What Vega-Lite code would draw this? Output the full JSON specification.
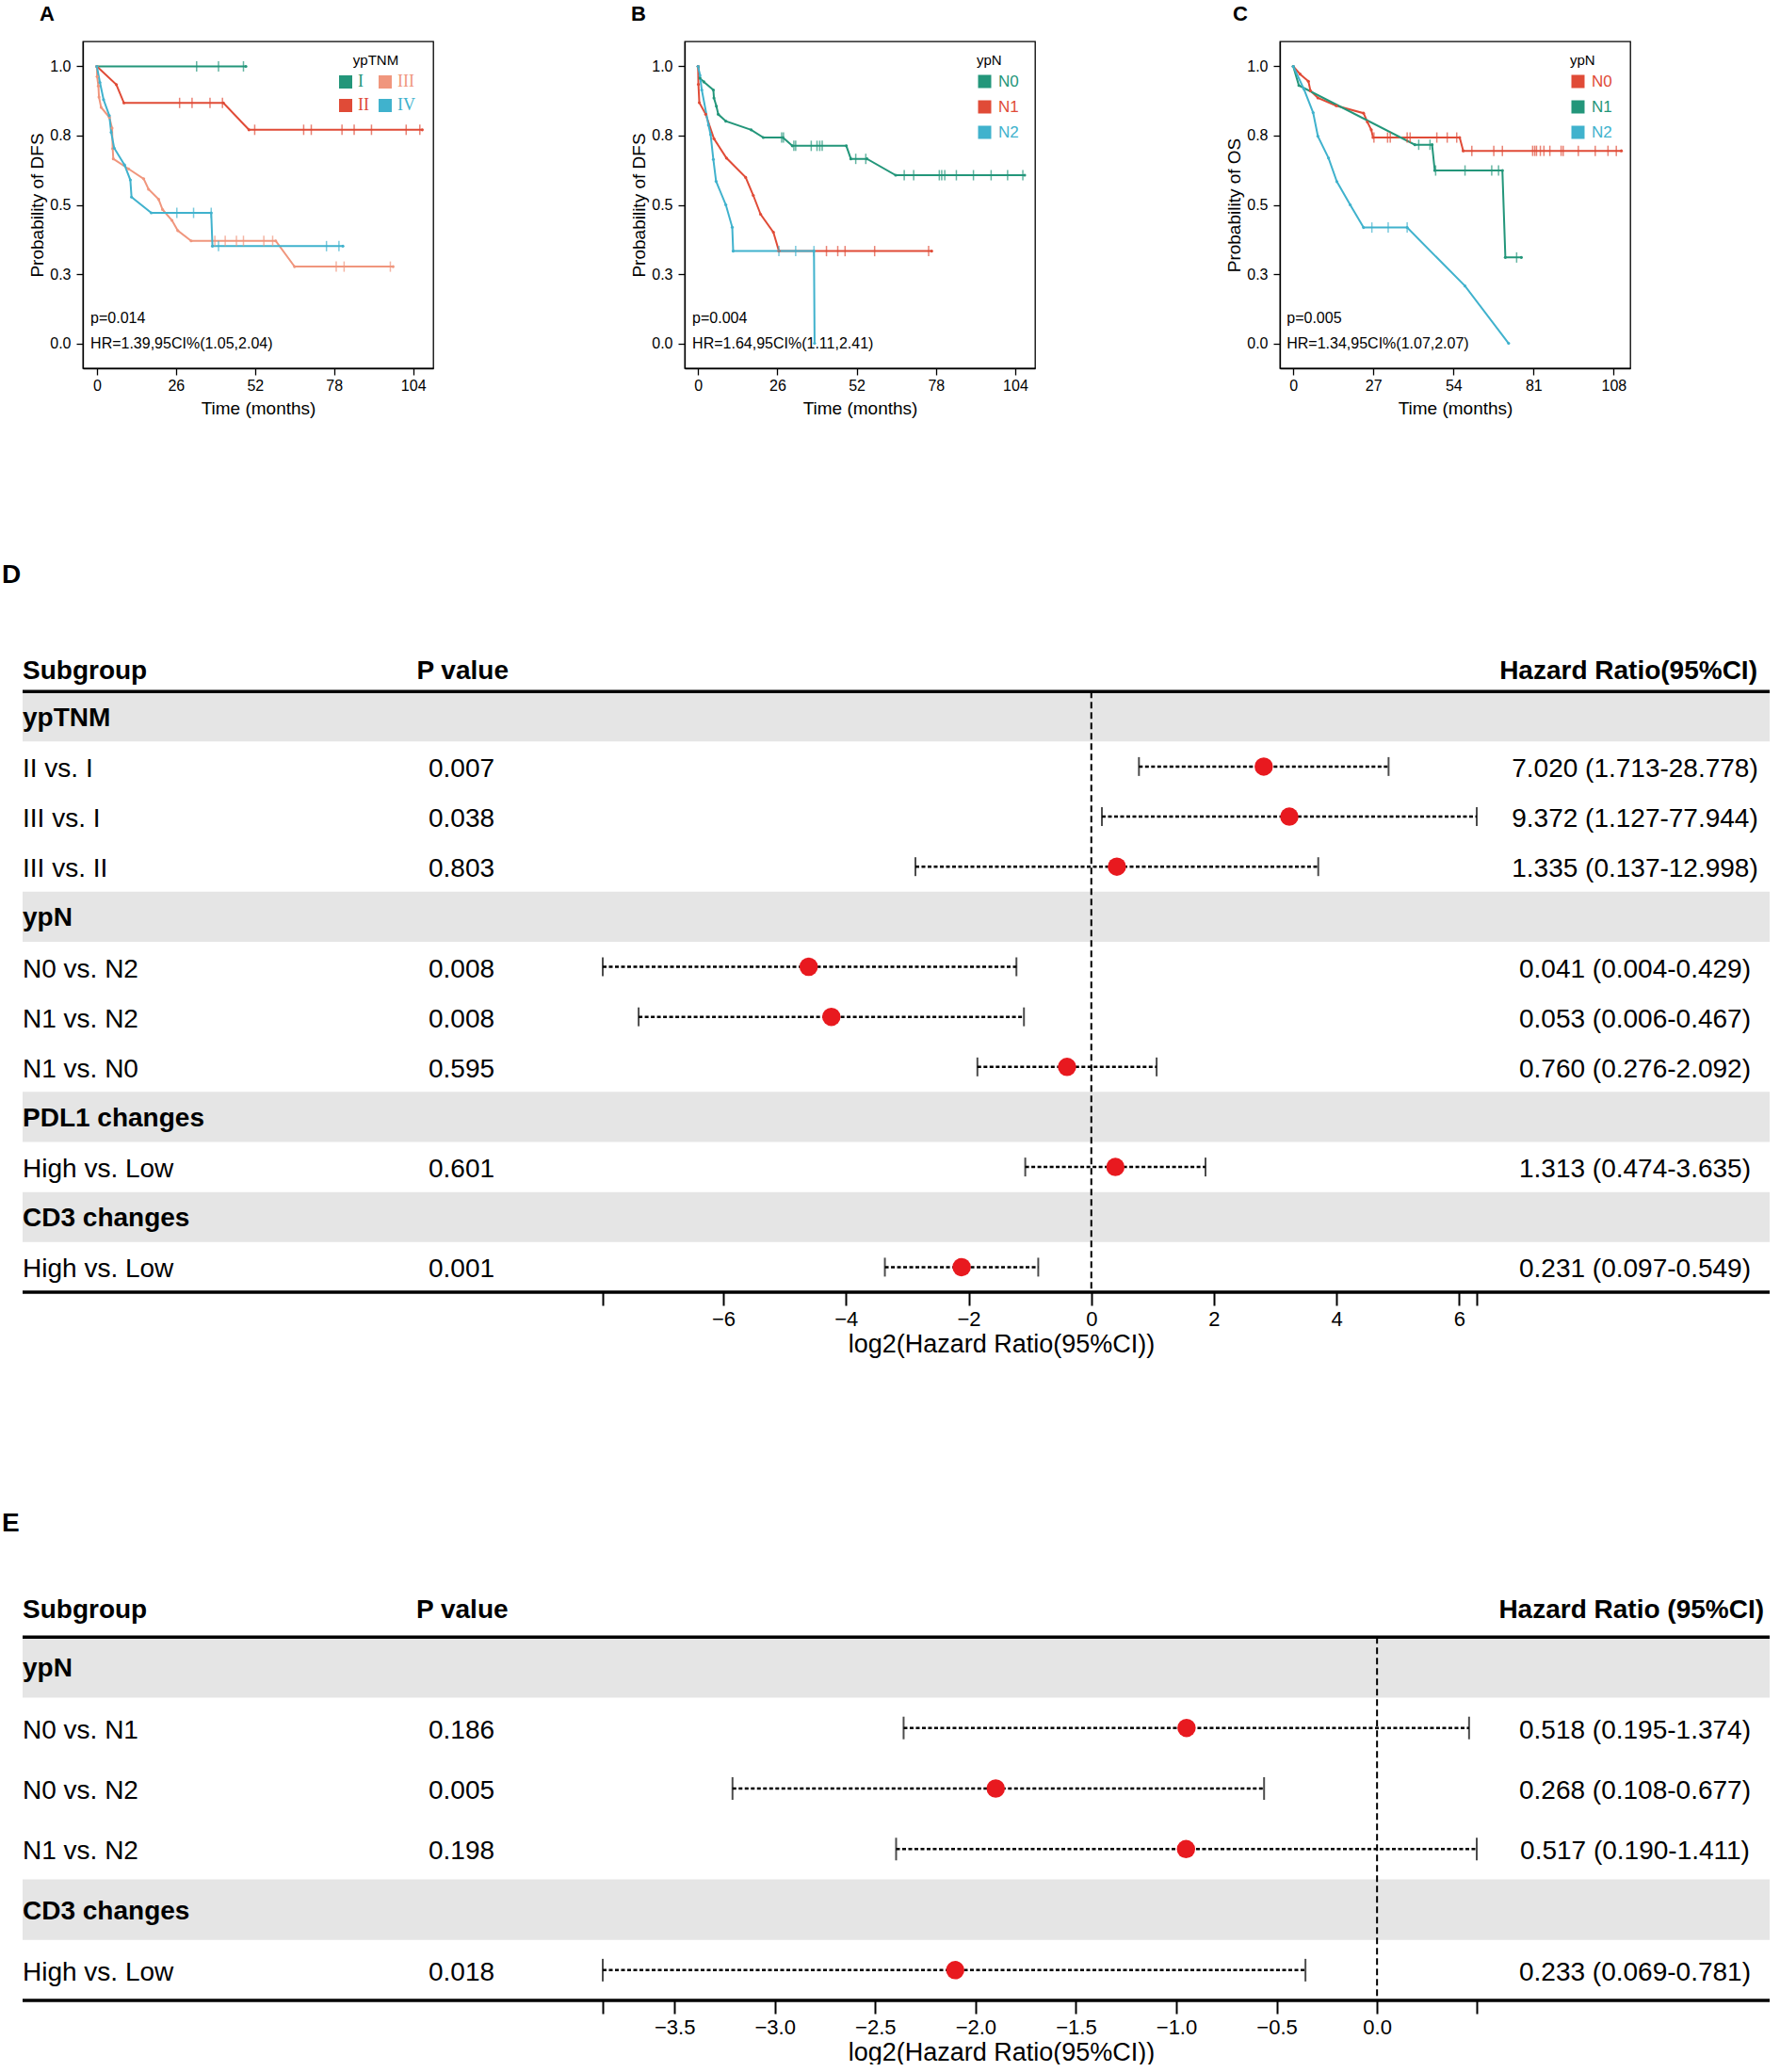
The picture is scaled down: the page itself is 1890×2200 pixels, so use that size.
{
  "$schema": "https://vega.github.io/schema/vega-lite/v6.json",
  "background": "white",
  "padding": {"left": 2, "top": 3, "right": 0, "bottom": 0},
  "config": {
    "font": "Liberation Sans",
    "view": {"stroke": "black", "strokeWidth": 1.3},
    "axis": {"grid": false, "labelColor": "black", "titleColor": "black", "tickColor": "black", "domainColor": "black", "titleFontWeight": "normal", "labelFont": "Liberation Sans", "titleFont": "Liberation Sans"},
    "title": {"color": "black", "font": "Liberation Sans"},
    "legend": {"titleFontWeight": "normal", "titleColor": "black"}
  },
  "datasets": {
    "a_lines": [
      {"g":"I","t":0,"s":1},{"g":"I","t":49,"s":1},
      {"g":"II","t":0,"s":1},{"g":"II","t":6.4,"s":0.934},{"g":"II","t":8.9,"s":0.868},{"g":"II","t":41.6,"s":0.868},{"g":"II","t":50,"s":0.771},{"g":"II","t":107,"s":0.771},
      {"g":"III","t":0,"s":1},{"g":"III","t":0.1,"s":0.963},{"g":"III","t":0.5,"s":0.929},{"g":"III","t":0.7,"s":0.889},{"g":"III","t":1.4,"s":0.852},{"g":"III","t":4.1,"s":0.816},{"g":"III","t":5,"s":0.777},{"g":"III","t":5.2,"s":0.703},{"g":"III","t":5.4,"s":0.666},{"g":"III","t":10.4,"s":0.63},{"g":"III","t":15.4,"s":0.594},{"g":"III","t":17,"s":0.556},{"g":"III","t":20.3,"s":0.52},{"g":"III","t":21.6,"s":0.483},{"g":"III","t":24.7,"s":0.444},{"g":"III","t":26.6,"s":0.407},{"g":"III","t":31,"s":0.37},{"g":"III","t":58.8,"s":0.37},{"g":"III","t":65,"s":0.277},{"g":"III","t":97.4,"s":0.277},
      {"g":"IV","t":0,"s":1},{"g":"IV","t":1,"s":0.942},{"g":"IV","t":2.2,"s":0.88},{"g":"IV","t":4.1,"s":0.822},{"g":"IV","t":4.7,"s":0.762},{"g":"IV","t":5.7,"s":0.705},{"g":"IV","t":9.1,"s":0.644},{"g":"IV","t":11,"s":0.59},{"g":"IV","t":11.4,"s":0.528},{"g":"IV","t":17.9,"s":0.471},{"g":"IV","t":37.6,"s":0.471},{"g":"IV","t":38,"s":0.351},{"g":"IV","t":80.9,"s":0.351}
    ],
    "a_cens": [
      {"g":"I","t":32.8,"s":1},{"g":"I","t":40,"s":1},{"g":"I","t":48.2,"s":1},
      {"g":"II","t":27.2,"s":0.868},{"g":"II","t":31.3,"s":0.868},{"g":"II","t":37.2,"s":0.868},{"g":"II","t":41.3,"s":0.868},
      {"g":"II","t":51.9,"s":0.771},{"g":"II","t":68,"s":0.771},{"g":"II","t":70.5,"s":0.771},{"g":"II","t":80.6,"s":0.771},{"g":"II","t":84.6,"s":0.771},{"g":"II","t":90.3,"s":0.771},{"g":"II","t":101.7,"s":0.771},{"g":"II","t":106.2,"s":0.771},
      {"g":"III","t":38.8,"s":0.37},{"g":"III","t":42.2,"s":0.37},{"g":"III","t":45.9,"s":0.37},{"g":"III","t":48.2,"s":0.37},{"g":"III","t":54.9,"s":0.37},{"g":"III","t":57.8,"s":0.37},
      {"g":"III","t":78.7,"s":0.277},{"g":"III","t":81.3,"s":0.277},{"g":"III","t":96.5,"s":0.277},
      {"g":"IV","t":26.3,"s":0.471},{"g":"IV","t":31.8,"s":0.471},{"g":"IV","t":37.6,"s":0.471},
      {"g":"IV","t":40,"s":0.351},{"g":"IV","t":75.5,"s":0.351},{"g":"IV","t":79.6,"s":0.351}
    ],
    "b_lines": [
      {"g":"N0","t":0,"s":1},{"g":"N0","t":0.6,"s":0.957},{"g":"N0","t":1.9,"s":0.944},{"g":"N0","t":5,"s":0.915},{"g":"N0","t":5.2,"s":0.886},{"g":"N0","t":6,"s":0.856},{"g":"N0","t":6.6,"s":0.827},{"g":"N0","t":9.1,"s":0.802},{"g":"N0","t":17.4,"s":0.771},{"g":"N0","t":21.4,"s":0.743},{"g":"N0","t":27.8,"s":0.743},{"g":"N0","t":30.9,"s":0.713},{"g":"N0","t":48.6,"s":0.713},{"g":"N0","t":50.1,"s":0.666},{"g":"N0","t":55.4,"s":0.666},{"g":"N0","t":64.8,"s":0.607},{"g":"N0","t":107.1,"s":0.607},
      {"g":"N1","t":0,"s":1},{"g":"N1","t":0.1,"s":0.935},{"g":"N1","t":0.4,"s":0.869},{"g":"N1","t":2.5,"s":0.827},{"g":"N1","t":5.2,"s":0.739},{"g":"N1","t":9.3,"s":0.669},{"g":"N1","t":15.6,"s":0.599},{"g":"N1","t":18.1,"s":0.534},{"g":"N1","t":20.5,"s":0.466},{"g":"N1","t":24.7,"s":0.401},{"g":"N1","t":26.5,"s":0.333},{"g":"N1","t":76.6,"s":0.333},
      {"g":"N2","t":0,"s":1},{"g":"N2","t":0.6,"s":0.968},{"g":"N2","t":1.2,"s":0.915},{"g":"N2","t":3.4,"s":0.788},{"g":"N2","t":4.1,"s":0.754},{"g":"N2","t":5,"s":0.664},{"g":"N2","t":5.9,"s":0.585},{"g":"N2","t":9.1,"s":0.5},{"g":"N2","t":11.2,"s":0.419},{"g":"N2","t":11.5,"s":0.333},{"g":"N2","t":38,"s":0.333},{"g":"N2","t":38.2,"s":0}
    ],
    "b_cens": [
      {"g":"N0","t":27.4,"s":0.743},{"g":"N0","t":28,"s":0.743},
      {"g":"N0","t":31.4,"s":0.713},{"g":"N0","t":32,"s":0.713},{"g":"N0","t":37.1,"s":0.713},{"g":"N0","t":39,"s":0.713},{"g":"N0","t":39.9,"s":0.713},{"g":"N0","t":40.7,"s":0.713},
      {"g":"N0","t":51.7,"s":0.666},{"g":"N0","t":55,"s":0.666},
      {"g":"N0","t":67.6,"s":0.607},{"g":"N0","t":70.7,"s":0.607},{"g":"N0","t":79.1,"s":0.607},{"g":"N0","t":79.9,"s":0.607},{"g":"N0","t":80.9,"s":0.607},{"g":"N0","t":84.7,"s":0.607},{"g":"N0","t":90.3,"s":0.607},{"g":"N0","t":96.1,"s":0.607},{"g":"N0","t":101.5,"s":0.607},{"g":"N0","t":106.5,"s":0.607},
      {"g":"N1","t":42.1,"s":0.333},{"g":"N1","t":45.8,"s":0.333},{"g":"N1","t":48.2,"s":0.333},{"g":"N1","t":57.9,"s":0.333},{"g":"N1","t":75.6,"s":0.333},
      {"g":"N2","t":26.5,"s":0.333},{"g":"N2","t":32,"s":0.333},{"g":"N2","t":38,"s":0.333}
    ],
    "c_lines": [
      {"g":"N0","t":0,"s":1},{"g":"N0","t":2.3,"s":0.972},{"g":"N0","t":5.1,"s":0.946},{"g":"N0","t":5.8,"s":0.912},{"g":"N0","t":8.3,"s":0.886},{"g":"N0","t":14.5,"s":0.858},{"g":"N0","t":23.7,"s":0.831},{"g":"N0","t":25,"s":0.799},{"g":"N0","t":26.3,"s":0.771},{"g":"N0","t":26.9,"s":0.743},{"g":"N0","t":56.1,"s":0.743},{"g":"N0","t":57.3,"s":0.695},{"g":"N0","t":110.6,"s":0.695},
      {"g":"N1","t":0,"s":1},{"g":"N1","t":1.9,"s":0.931},{"g":"N1","t":41,"s":0.717},{"g":"N1","t":46.8,"s":0.717},{"g":"N1","t":47.7,"s":0.624},{"g":"N1","t":70.5,"s":0.624},{"g":"N1","t":71.5,"s":0.31},{"g":"N1","t":76.9,"s":0.31},
      {"g":"N2","t":0,"s":1},{"g":"N2","t":3.6,"s":0.918},{"g":"N2","t":6.7,"s":0.833},{"g":"N2","t":8.3,"s":0.748},{"g":"N2","t":11.9,"s":0.669},{"g":"N2","t":14.7,"s":0.584},{"g":"N2","t":19.2,"s":0.5},{"g":"N2","t":23.7,"s":0.418},{"g":"N2","t":38.4,"s":0.418},{"g":"N2","t":57.9,"s":0.207},{"g":"N2","t":72.6,"s":0}
    ],
    "c_cens": [
      {"g":"N0","t":27.2,"s":0.743},{"g":"N0","t":31.8,"s":0.743},{"g":"N0","t":32.7,"s":0.743},{"g":"N0","t":38.4,"s":0.743},{"g":"N0","t":39.4,"s":0.743},{"g":"N0","t":48.4,"s":0.743},{"g":"N0","t":51.9,"s":0.743},{"g":"N0","t":55.1,"s":0.743},
      {"g":"N0","t":60.2,"s":0.695},{"g":"N0","t":67.6,"s":0.695},{"g":"N0","t":70.5,"s":0.695},{"g":"N0","t":80.7,"s":0.695},{"g":"N0","t":81.4,"s":0.695},{"g":"N0","t":82,"s":0.695},{"g":"N0","t":83.3,"s":0.695},{"g":"N0","t":84.5,"s":0.695},{"g":"N0","t":86.5,"s":0.695},{"g":"N0","t":90.3,"s":0.695},{"g":"N0","t":91,"s":0.695},{"g":"N0","t":96.1,"s":0.695},{"g":"N0","t":101.8,"s":0.695},{"g":"N0","t":106.1,"s":0.695},{"g":"N0","t":108.9,"s":0.695},
      {"g":"N1","t":42.3,"s":0.717},{"g":"N1","t":46.1,"s":0.717},{"g":"N1","t":48,"s":0.624},{"g":"N1","t":57.9,"s":0.624},{"g":"N1","t":66.9,"s":0.624},{"g":"N1","t":69.2,"s":0.624},{"g":"N1","t":75.3,"s":0.31},
      {"g":"N2","t":26.5,"s":0.418},{"g":"N2","t":32,"s":0.418},{"g":"N2","t":38.4,"s":0.418}
    ],
    "d_rows": [
      {"row":0,"kind":"group","label":"ypTNM"},
      {"row":1,"kind":"item","label":"II vs. I","p":"0.007","hr":"7.020 (1.713-28.778)","est":2.8115,"lo":0.7765,"hi":4.8468},
      {"row":2,"kind":"item","label":"III vs. I","p":"0.038","hr":"9.372 (1.127-77.944)","est":3.2284,"lo":0.1725,"hi":6.2844},
      {"row":3,"kind":"item","label":"III vs. II","p":"0.803","hr":"1.335 (0.137-12.998)","est":0.4168,"lo":-2.8678,"hi":3.7002},
      {"row":4,"kind":"group","label":"ypN"},
      {"row":5,"kind":"item","label":"N0 vs. N2","p":"0.008","hr":"0.041 (0.004-0.429)","est":-4.6082,"lo":-7.9658,"hi":-1.2209},
      {"row":6,"kind":"item","label":"N1 vs. N2","p":"0.008","hr":"0.053 (0.006-0.467)","est":-4.2379,"lo":-7.3808,"hi":-1.0985},
      {"row":7,"kind":"item","label":"N1 vs. N0","p":"0.595","hr":"0.760 (0.276-2.092)","est":-0.3959,"lo":-1.8573,"hi":1.0649},
      {"row":8,"kind":"group","label":"PDL1 changes"},
      {"row":9,"kind":"item","label":"High vs. Low","p":"0.601","hr":"1.313 (0.474-3.635)","est":0.3929,"lo":-1.0771,"hi":1.862},
      {"row":10,"kind":"group","label":"CD3 changes"},
      {"row":11,"kind":"item","label":"High vs. Low","p":"0.001","hr":"0.231 (0.097-0.549)","est":-2.114,"lo":-3.3659,"hi":-0.8651}
    ],
    "e_rows": [
      {"row":0,"kind":"group","label":"ypN"},
      {"row":1,"kind":"item","label":"N0 vs. N1","p":"0.186","hr":"0.518 (0.195-1.374)","est":-0.949,"lo":-2.3585,"hi":0.4584},
      {"row":2,"kind":"item","label":"N0 vs. N2","p":"0.005","hr":"0.268 (0.108-0.677)","est":-1.8997,"lo":-3.2109,"hi":-0.5628},
      {"row":3,"kind":"item","label":"N1 vs. N2","p":"0.198","hr":"0.517 (0.190-1.411)","est":-0.9517,"lo":-2.3959,"hi":0.4967},
      {"row":4,"kind":"group","label":"CD3 changes"},
      {"row":5,"kind":"item","label":"High vs. Low","p":"0.018","hr":"0.233 (0.069-0.781)","est":-2.1015,"lo":-3.8573,"hi":-0.3566}
    ]
  },
  "spacing": 153,
  "resolve": {"scale": {"color": "independent"}, "legend": {"color": "independent"}},
  "vconcat": [
    {
      "spacing": 0,
      "resolve": {"scale": {"color": "independent"}, "legend": {"color": "independent"}},
      "hconcat": [
        {"width": 28, "height": 10, "view": {"stroke": null}, "data": {"values": [{}]}, "mark": {"type": "text"}, "encoding": {"text": {"value": ""}}},
        {
          "spacing": 208,
          "resolve": {"scale": {"color": "independent", "x": "independent", "y": "independent"}, "legend": {"color": "independent"}},
          "hconcat": [
            {
              "width": 372, "height": 347,
              "title": {"text": "A", "anchor": "start", "frame": "group", "dx": -46, "fontSize": 22, "fontWeight": "bold", "offset": 17},
              "layer": [
                {
                  "data": {"name": "a_lines"},
                  "mark": {"type": "line", "strokeWidth": 2, "point": {"filled": true, "size": 10}},
                  "encoding": {
                    "x": {"field": "t", "type": "quantitative", "title": "Time (months)", "scale": {"domain": [-4.6, 110.6], "nice": false, "zero": false, "padding": 0}, "axis": {"values": [0, 26, 52, 78, 104], "title": "Time (months)", "tickSize": 7, "tickWidth": 1.3, "domainWidth": 1.3, "labelFontSize": 16, "titleFontSize": 19, "labelPadding": 3, "titlePadding": 7, "labelFlush": false}},
                    "y": {"field": "s", "type": "quantitative", "title": "Probability of DFS", "scale": {"domain": [-0.09, 1.09], "nice": false, "zero": false, "padding": 0}, "axis": {"values": [0, 0.25, 0.5, 0.75, 1], "format": ".1f", "title": "Probability of DFS", "tickSize": 7, "tickWidth": 1.3, "domainWidth": 1.3, "labelFontSize": 16, "titleFontSize": 19, "labelPadding": 6, "titlePadding": 3}},
                    "color": {"field": "g", "type": "nominal", "scale": {"domain": ["I", "II", "III", "IV"], "range": ["#23967A", "#E04B37", "#F0967D", "#40B2CD"]},
                      "legend": {"title": "ypTNM", "orient": "none", "legendX": 270, "legendY": 13, "columns": 2, "titleFontSize": 15, "titleAnchor": "middle", "titlePadding": 6, "labelFont": "Liberation Serif", "labelFontSize": 18, "symbolType": "square", "symbolSize": 196, "rowPadding": 7, "columnPadding": 8, "labelOffset": 4, "padding": 0,
                        "encode": {"labels": {"update": {"fill": {"signal": "datum.value === 'I' ? '#23967A' : datum.value === 'II' ? '#E04B37' : datum.value === 'III' ? '#F0967D' : '#40B2CD'"}}},
                                   "symbols": {"update": {"fill": {"signal": "datum.value === 'I' ? '#23967A' : datum.value === 'II' ? '#E04B37' : datum.value === 'III' ? '#F0967D' : '#40B2CD'"}, "stroke": {"value": "transparent"}, "strokeWidth": {"value": 0}}}}}}
                  }
                },
                {
                  "data": {"name": "a_cens"},
                  "mark": {"type": "tick", "orient": "vertical", "size": 11, "thickness": 1.5},
                  "encoding": {
                    "x": {"field": "t", "type": "quantitative", "title": "Time (months)"},
                    "y": {"field": "s", "type": "quantitative", "title": "Probability of DFS"},
                    "color": {"field": "g", "type": "nominal", "legend": null}
                  }
                },
                {
                  "data": {"values": [{"txt": "p=0.014"}]},
                  "mark": {"type": "text", "align": "left", "baseline": "middle", "fontSize": 16, "color": "black"},
                  "encoding": {"x": {"datum": -2.1}, "y": {"datum": 0.09}, "text": {"field": "txt"}}
                },
                {
                  "data": {"values": [{"txt": "HR=1.39,95CI%(1.05,2.04)"}]},
                  "mark": {"type": "text", "align": "left", "baseline": "middle", "fontSize": 16, "color": "black"},
                  "encoding": {"x": {"datum": -2.1}, "y": {"datum": 0.0}, "text": {"field": "txt"}}
                }
              ]
            },
            {
              "spacing": 201,
              "resolve": {"scale": {"color": "independent", "x": "independent", "y": "independent"}, "legend": {"color": "independent"}},
              "hconcat": [
                {
                  "width": 372, "height": 347,
                  "title": {"text": "B", "anchor": "start", "frame": "group", "dx": -57, "fontSize": 22, "fontWeight": "bold", "offset": 17},
                  "layer": [
                    {
                      "data": {"name": "b_lines"},
                      "mark": {"type": "line", "strokeWidth": 2, "point": {"filled": true, "size": 10}},
                      "encoding": {
                        "x": {"field": "t", "type": "quantitative", "title": "Time (months)", "scale": {"domain": [-4.4, 110.5], "nice": false, "zero": false, "padding": 0}, "axis": {"values": [0, 26, 52, 78, 104], "title": "Time (months)", "tickSize": 7, "tickWidth": 1.3, "domainWidth": 1.3, "labelFontSize": 16, "titleFontSize": 19, "labelPadding": 3, "titlePadding": 7, "labelFlush": false}},
                        "y": {"field": "s", "type": "quantitative", "title": "Probability of DFS", "scale": {"domain": [-0.09, 1.09], "nice": false, "zero": false, "padding": 0}, "axis": {"values": [0, 0.25, 0.5, 0.75, 1], "format": ".1f", "title": "Probability of DFS", "tickSize": 7, "tickWidth": 1.3, "domainWidth": 1.3, "labelFontSize": 16, "titleFontSize": 19, "labelPadding": 6, "titlePadding": 3}},
                        "color": {"field": "g", "type": "nominal", "scale": {"domain": ["N0", "N1", "N2"], "range": ["#23967A", "#E04B37", "#40B2CD"]},
                          "legend": {"title": "ypN", "orient": "none", "legendX": 310, "legendY": 13, "titleFontSize": 15, "titleAnchor": "start", "titlePadding": 6, "labelFontSize": 17, "symbolType": "square", "symbolSize": 196, "rowPadding": 9, "labelOffset": 6, "padding": 0,
                            "encode": {"labels": {"update": {"fill": {"signal": "datum.value === 'N0' ? '#23967A' : datum.value === 'N1' ? '#E04B37' : '#40B2CD'"}}},
                                       "symbols": {"update": {"fill": {"signal": "datum.value === 'N0' ? '#23967A' : datum.value === 'N1' ? '#E04B37' : '#40B2CD'"}, "stroke": {"value": "transparent"}, "strokeWidth": {"value": 0}}}}}}
                      }
                    },
                    {
                      "data": {"name": "b_cens"},
                      "mark": {"type": "tick", "orient": "vertical", "size": 11, "thickness": 1.5},
                      "encoding": {
                        "x": {"field": "t", "type": "quantitative", "title": "Time (months)"},
                        "y": {"field": "s", "type": "quantitative", "title": "Probability of DFS"},
                        "color": {"field": "g", "type": "nominal", "legend": null}
                      }
                    },
                    {
                      "data": {"values": [{"txt": "p=0.004"}]},
                      "mark": {"type": "text", "align": "left", "baseline": "middle", "fontSize": 16, "color": "black"},
                      "encoding": {"x": {"datum": -1.9}, "y": {"datum": 0.09}, "text": {"field": "txt"}}
                    },
                    {
                      "data": {"values": [{"txt": "HR=1.64,95CI%(1.11,2.41)"}]},
                      "mark": {"type": "text", "align": "left", "baseline": "middle", "fontSize": 16, "color": "black"},
                      "encoding": {"x": {"datum": -1.9}, "y": {"datum": 0.0}, "text": {"field": "txt"}}
                    }
                  ]
                },
                {
                  "width": 372, "height": 347,
                  "title": {"text": "C", "anchor": "start", "frame": "group", "dx": -50, "fontSize": 22, "fontWeight": "bold", "offset": 17},
                  "layer": [
                    {
                      "data": {"name": "c_lines"},
                      "mark": {"type": "line", "strokeWidth": 2, "point": {"filled": true, "size": 10}},
                      "encoding": {
                        "x": {"field": "t", "type": "quantitative", "title": "Time (months)", "scale": {"domain": [-4.5, 113.6], "nice": false, "zero": false, "padding": 0}, "axis": {"values": [0, 27, 54, 81, 108], "title": "Time (months)", "tickSize": 7, "tickWidth": 1.3, "domainWidth": 1.3, "labelFontSize": 16, "titleFontSize": 19, "labelPadding": 3, "titlePadding": 7, "labelFlush": false}},
                        "y": {"field": "s", "type": "quantitative", "title": "Probability of OS", "scale": {"domain": [-0.09, 1.09], "nice": false, "zero": false, "padding": 0}, "axis": {"values": [0, 0.25, 0.5, 0.75, 1], "format": ".1f", "title": "Probability of OS", "tickSize": 7, "tickWidth": 1.3, "domainWidth": 1.3, "labelFontSize": 16, "titleFontSize": 19, "labelPadding": 6, "titlePadding": 3}},
                        "color": {"field": "g", "type": "nominal", "scale": {"domain": ["N0", "N1", "N2"], "range": ["#E04B37", "#23967A", "#40B2CD"]},
                          "legend": {"title": "ypN", "orient": "none", "legendX": 308, "legendY": 13, "titleFontSize": 15, "titleAnchor": "start", "titlePadding": 6, "labelFontSize": 17, "symbolType": "square", "symbolSize": 196, "rowPadding": 9, "labelOffset": 6, "padding": 0,
                            "encode": {"labels": {"update": {"fill": {"signal": "datum.value === 'N0' ? '#E04B37' : datum.value === 'N1' ? '#23967A' : '#40B2CD'"}}},
                                       "symbols": {"update": {"fill": {"signal": "datum.value === 'N0' ? '#E04B37' : datum.value === 'N1' ? '#23967A' : '#40B2CD'"}, "stroke": {"value": "transparent"}, "strokeWidth": {"value": 0}}}}}}
                      }
                    },
                    {
                      "data": {"name": "c_cens"},
                      "mark": {"type": "tick", "orient": "vertical", "size": 11, "thickness": 1.5},
                      "encoding": {
                        "x": {"field": "t", "type": "quantitative", "title": "Time (months)"},
                        "y": {"field": "s", "type": "quantitative", "title": "Probability of OS"},
                        "color": {"field": "g", "type": "nominal", "legend": null}
                      }
                    },
                    {
                      "data": {"values": [{"txt": "p=0.005"}]},
                      "mark": {"type": "text", "align": "left", "baseline": "middle", "fontSize": 16, "color": "black"},
                      "encoding": {"x": {"datum": -2.2}, "y": {"datum": 0.09}, "text": {"field": "txt"}}
                    },
                    {
                      "data": {"values": [{"txt": "HR=1.34,95CI%(1.07,2.07)"}]},
                      "mark": {"type": "text", "align": "left", "baseline": "middle", "fontSize": 16, "color": "black"},
                      "encoding": {"x": {"datum": -2.2}, "y": {"datum": 0.0}, "text": {"field": "txt"}}
                    }
                  ]
                }
              ]
            }
          ]
        }
      ]
    },
    {
      "spacing": 164,
      "vconcat": [
        {
          "width": 1877, "height": 691,
          "view": {"stroke": null},
          "title": {"text": "D", "anchor": "start", "frame": "group", "dx": 0, "fontSize": 28, "fontWeight": "bold", "offset": 56},
          "data": {"name": "d_rows"},
          "layer": [
            {"transform": [{"filter": "datum.kind === 'group'"}], "mark": {"type": "bar", "color": "#e5e5e5", "orient": "horizontal"},
             "encoding": {"x": {"datum": -17.425, "type": "quantitative"}, "x2": {"datum": 11.06}, "y": {"field": "row", "type": "quantitative", "scale": {"domain": [11.5, -1.5], "nice": false, "zero": false, "padding": 0}, "axis": null}, "size": {"value": 53.2}}},
            {"data": {"values": [{}]}, "mark": {"type": "rule", "color": "black", "strokeWidth": 3.5}, "encoding": {"x": {"datum": -17.425, "type": "quantitative"}, "x2": {"datum": 11.06}, "y": {"datum": -0.5, "type": "quantitative", "axis": null}}},
            {"data": {"values": [{}]}, "mark": {"type": "rule", "color": "black", "strokeWidth": 3.5}, "encoding": {"x": {"datum": -17.425, "type": "quantitative"}, "x2": {"datum": 11.06}, "y": {"datum": 11.5, "type": "quantitative", "axis": null}}},
            {"data": {"values": [{}]}, "mark": {"type": "rule", "color": "black", "strokeWidth": 2, "strokeDash": [7, 4]},
             "encoding": {
               "x": {"datum": 0, "type": "quantitative", "scale": {"domain": [-17.763, 11.06], "nice": false, "zero": false, "padding": 0},
                     "axis": {"values": [-7.9658, -6, -4, -2, 0, 2, 4, 6, 6.2844], "format": "d", "labelExpr": "datum.value < -7 || datum.value > 6.1 ? '' : datum.label", "domain": false, "tickSize": 14, "tickWidth": 2, "labelFontSize": 22, "labelPadding": 4, "labelFlush": false, "title": "log2(Hazard Ratio(95%CI))", "titleFontSize": 27, "titlePadding": 3, "titleX": 1061, "titleAlign": "center"}},
               "y": {"datum": -0.5, "type": "quantitative", "axis": null}, "y2": {"datum": 11.5}}},
            {"transform": [{"filter": "datum.kind === 'item'"}], "mark": {"type": "rule", "color": "black", "strokeWidth": 2.5, "strokeDash": [4, 2.5]},
             "encoding": {"x": {"field": "lo", "type": "quantitative", "title": "log2(Hazard Ratio(95%CI))"}, "x2": {"field": "hi"}, "y": {"field": "row", "type": "quantitative", "axis": null}}},
            {"transform": [{"filter": "datum.kind === 'item'"}], "mark": {"type": "tick", "orient": "vertical", "color": "black", "size": 20, "thickness": 2},
             "encoding": {"x": {"field": "lo", "type": "quantitative", "title": "log2(Hazard Ratio(95%CI))"}, "y": {"field": "row", "type": "quantitative", "axis": null}}},
            {"transform": [{"filter": "datum.kind === 'item'"}], "mark": {"type": "tick", "orient": "vertical", "color": "black", "size": 20, "thickness": 2},
             "encoding": {"x": {"field": "hi", "type": "quantitative", "title": "log2(Hazard Ratio(95%CI))"}, "y": {"field": "row", "type": "quantitative", "axis": null}}},
            {"transform": [{"filter": "datum.kind === 'item'"}], "mark": {"type": "circle", "color": "#E8191F", "size": 380, "opacity": 1},
             "encoding": {"x": {"field": "est", "type": "quantitative", "title": "log2(Hazard Ratio(95%CI))"}, "y": {"field": "row", "type": "quantitative", "axis": null}}},
            {"transform": [{"filter": "datum.kind === 'group'"}], "mark": {"type": "text", "align": "left", "baseline": "middle", "fontSize": 28, "fontWeight": "bold", "color": "black", "dy": 2},
             "encoding": {"x": {"datum": -17.425}, "y": {"field": "row", "type": "quantitative", "axis": null}, "text": {"field": "label"}}},
            {"transform": [{"filter": "datum.kind === 'item'"}], "mark": {"type": "text", "align": "left", "baseline": "middle", "fontSize": 28, "color": "black", "dy": 3},
             "encoding": {"x": {"datum": -17.425}, "y": {"field": "row", "type": "quantitative", "axis": null}, "text": {"field": "label"}}},
            {"transform": [{"filter": "datum.kind === 'item'"}], "mark": {"type": "text", "align": "left", "baseline": "middle", "fontSize": 28, "color": "black", "dy": 3},
             "encoding": {"x": {"datum": -10.807}, "y": {"field": "row", "type": "quantitative", "axis": null}, "text": {"field": "p"}}},
            {"transform": [{"filter": "datum.kind === 'item'"}], "mark": {"type": "text", "align": "center", "baseline": "middle", "fontSize": 28, "color": "black", "dy": 3},
             "encoding": {"x": {"datum": 8.864}, "y": {"field": "row", "type": "quantitative", "axis": null}, "text": {"field": "hr"}}},
            {"data": {"values": [{"h": "Subgroup"}]}, "mark": {"type": "text", "align": "left", "baseline": "middle", "fontSize": 28, "fontWeight": "bold", "color": "black"},
             "encoding": {"x": {"datum": -17.425}, "y": {"datum": -0.895}, "text": {"field": "h"}}},
            {"data": {"values": [{"h": "P value"}]}, "mark": {"type": "text", "align": "left", "baseline": "middle", "fontSize": 28, "fontWeight": "bold", "color": "black"},
             "encoding": {"x": {"datum": -11.0}, "y": {"datum": -0.895}, "text": {"field": "h"}}},
            {"data": {"values": [{"h": "Hazard Ratio(95%CI)"}]}, "mark": {"type": "text", "align": "right", "baseline": "middle", "fontSize": 28, "fontWeight": "bold", "color": "black"},
             "encoding": {"x": {"datum": 10.86}, "y": {"datum": -0.895}, "text": {"field": "h"}}}
          ]
        },
        {
          "width": 1877, "height": 450,
          "view": {"stroke": null},
          "title": {"text": "E", "anchor": "start", "frame": "group", "dx": 0, "fontSize": 28, "fontWeight": "bold", "offset": 42},
          "data": {"name": "e_rows"},
          "layer": [
            {"transform": [{"filter": "datum.kind === 'group'"}], "mark": {"type": "bar", "color": "#e5e5e5", "orient": "horizontal"},
             "encoding": {"x": {"datum": -6.7475, "type": "quantitative"}, "x2": {"datum": 1.9558}, "y": {"field": "row", "type": "quantitative", "scale": {"domain": [5.5, -1.5], "nice": false, "zero": false, "padding": 0}, "axis": null}, "size": {"value": 64.3}}},
            {"data": {"values": [{}]}, "mark": {"type": "rule", "color": "black", "strokeWidth": 3.5}, "encoding": {"x": {"datum": -6.7475, "type": "quantitative"}, "x2": {"datum": 1.9558}, "y": {"datum": -0.5, "type": "quantitative", "axis": null}}},
            {"data": {"values": [{}]}, "mark": {"type": "rule", "color": "black", "strokeWidth": 3.5}, "encoding": {"x": {"datum": -6.7475, "type": "quantitative"}, "x2": {"datum": 1.9558}, "y": {"datum": 5.5, "type": "quantitative", "axis": null}}},
            {"data": {"values": [{}]}, "mark": {"type": "rule", "color": "black", "strokeWidth": 2, "strokeDash": [7, 4]},
             "encoding": {
               "x": {"datum": 0, "type": "quantitative", "scale": {"domain": [-6.8507, 1.9558], "nice": false, "zero": false, "padding": 0},
                     "axis": {"values": [-3.8573, -3.5, -3, -2.5, -2, -1.5, -1, -0.5, 0, 0.4967], "format": ".1f", "labelExpr": "datum.value < -3.6 || datum.value > 0.1 ? '' : datum.label", "domain": false, "tickSize": 14, "tickWidth": 2, "labelFontSize": 22, "labelPadding": 4, "labelFlush": false, "title": "log2(Hazard Ratio(95%CI))", "titleFontSize": 27, "titlePadding": 3, "titleX": 1061, "titleAlign": "center"}},
               "y": {"datum": -0.5, "type": "quantitative", "axis": null}, "y2": {"datum": 5.5}}},
            {"transform": [{"filter": "datum.kind === 'item'"}], "mark": {"type": "rule", "color": "black", "strokeWidth": 2.5, "strokeDash": [4, 2.5]},
             "encoding": {"x": {"field": "lo", "type": "quantitative", "title": "log2(Hazard Ratio(95%CI))"}, "x2": {"field": "hi"}, "y": {"field": "row", "type": "quantitative", "axis": null}}},
            {"transform": [{"filter": "datum.kind === 'item'"}], "mark": {"type": "tick", "orient": "vertical", "color": "black", "size": 24, "thickness": 2},
             "encoding": {"x": {"field": "lo", "type": "quantitative", "title": "log2(Hazard Ratio(95%CI))"}, "y": {"field": "row", "type": "quantitative", "axis": null}}},
            {"transform": [{"filter": "datum.kind === 'item'"}], "mark": {"type": "tick", "orient": "vertical", "color": "black", "size": 24, "thickness": 2},
             "encoding": {"x": {"field": "hi", "type": "quantitative", "title": "log2(Hazard Ratio(95%CI))"}, "y": {"field": "row", "type": "quantitative", "axis": null}}},
            {"transform": [{"filter": "datum.kind === 'item'"}], "mark": {"type": "circle", "color": "#E8191F", "size": 380, "opacity": 1},
             "encoding": {"x": {"field": "est", "type": "quantitative", "title": "log2(Hazard Ratio(95%CI))"}, "y": {"field": "row", "type": "quantitative", "axis": null}}},
            {"transform": [{"filter": "datum.kind === 'group'"}], "mark": {"type": "text", "align": "left", "baseline": "middle", "fontSize": 28, "fontWeight": "bold", "color": "black", "dy": 2},
             "encoding": {"x": {"datum": -6.7475}, "y": {"field": "row", "type": "quantitative", "axis": null}, "text": {"field": "label"}}},
            {"transform": [{"filter": "datum.kind === 'item'"}], "mark": {"type": "text", "align": "left", "baseline": "middle", "fontSize": 28, "color": "black", "dy": 3},
             "encoding": {"x": {"datum": -6.7475}, "y": {"field": "row", "type": "quantitative", "axis": null}, "text": {"field": "label"}}},
            {"transform": [{"filter": "datum.kind === 'item'"}], "mark": {"type": "text", "align": "left", "baseline": "middle", "fontSize": 28, "color": "black", "dy": 3},
             "encoding": {"x": {"datum": -4.7253}, "y": {"field": "row", "type": "quantitative", "axis": null}, "text": {"field": "p"}}},
            {"transform": [{"filter": "datum.kind === 'item'"}], "mark": {"type": "text", "align": "center", "baseline": "middle", "fontSize": 28, "color": "black", "dy": 3},
             "encoding": {"x": {"datum": 1.2849}, "y": {"field": "row", "type": "quantitative", "axis": null}, "text": {"field": "hr"}}},
            {"data": {"values": [{"h": "Subgroup"}]}, "mark": {"type": "text", "align": "left", "baseline": "middle", "fontSize": 28, "fontWeight": "bold", "color": "black"},
             "encoding": {"x": {"datum": -6.7475}, "y": {"datum": -0.935}, "text": {"field": "h"}}},
            {"data": {"values": [{"h": "P value"}]}, "mark": {"type": "text", "align": "left", "baseline": "middle", "fontSize": 28, "fontWeight": "bold", "color": "black"},
             "encoding": {"x": {"datum": -4.7863}, "y": {"datum": -0.935}, "text": {"field": "h"}}},
            {"data": {"values": [{"h": "Hazard Ratio (95%CI)"}]}, "mark": {"type": "text", "align": "right", "baseline": "middle", "fontSize": 28, "fontWeight": "bold", "color": "black"},
             "encoding": {"x": {"datum": 1.9277}, "y": {"datum": -0.935}, "text": {"field": "h"}}}
          ]
        }
      ]
    }
  ]
}
